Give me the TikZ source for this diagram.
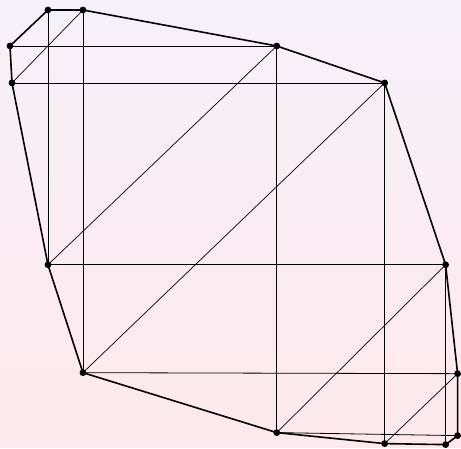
\documentclass[tikz,border=0pt]{standalone}
\definecolor{bgtop}{RGB}{246,241,249}
\definecolor{bgbot}{RGB}{253,232,236}
\begin{document}
\begin{tikzpicture}[x=1pt,y=-1pt]
% background
\shade[top color=bgtop,bottom color=bgbot] (0,0) rectangle (461,448);
% corners of the hull
\foreach \n/\x/\y in {a/48/10,b/83/10,c/277/46,d/385/83,e/446/265,f/458/374,g/458/436,
  h/446/445,i/385/444,j/277/433,k/83/373,l/48/265,m/12/83,n/10/46}
  \coordinate (\n) at (\x,\y);
% vertical, horizontal and diagonal chords
\foreach \p/\q in {a/l,b/k,c/j,d/i,e/h} \draw[line width=0.8pt] (\p) -- (\q);
\foreach \p/\q in {n/c,m/d,l/e,k/f,j/g} \draw[line width=0.8pt] (\p) -- (\q);
\foreach \p/\q in {m/b,l/c,k/d,j/e,i/f} \draw[line width=0.7pt] (\p) -- (\q);
% hull
\draw[line width=1.6pt,line join=round] (a) -- (b) -- (c) -- (d) -- (e) -- (f) -- (g) -- (h)
  -- (i) -- (j) -- (k) -- (l) -- (m) -- (n) -- cycle;
\foreach \n in {a,b,c,d,e,f,g,h,i,j,k,l,m,n} \fill (\n) circle (3.4);
\end{tikzpicture}
\end{document}
